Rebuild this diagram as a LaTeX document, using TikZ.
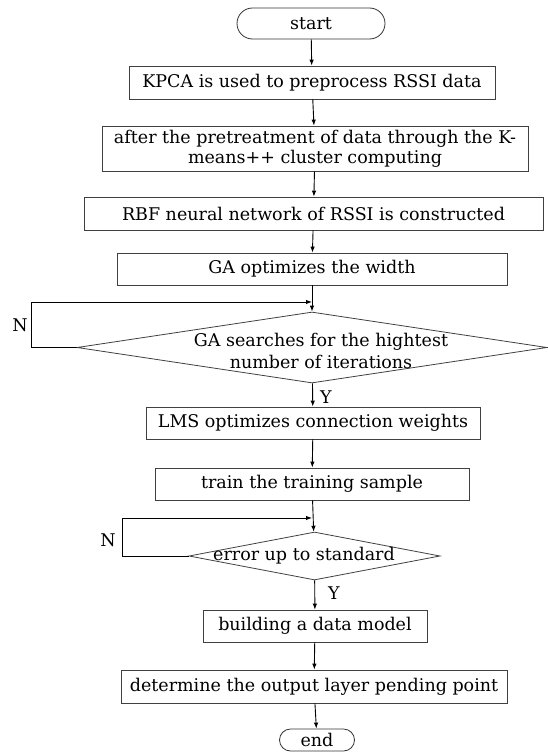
\documentclass[tikz,border=0pt]{standalone}
\usepackage{fontspec}
\setmainfont{DejaVu Serif}
\usetikzlibrary{arrows.meta,shapes.geometric}
\begin{document}
\begin{tikzpicture}[x=1pt, y=-1pt, >={Latex[length=6pt,width=4.5pt]},
  every node/.style={font=\fontsize{17.5}{20}\selectfont, inner sep=1pt},
  box/.style={draw=black!75, line width=0.8pt, rectangle, minimum height=32pt},
  term/.style={draw=black!80, line width=0.8pt, rectangle, rounded corners=11pt},
  decision/.style={draw=black!75, line width=0.8pt, diamond, aspect=6, inner sep=0pt},
  flow/.style={->, line width=0.9pt}]
\useasboundingbox (0,0) rectangle (548,752);
\node[term, rounded corners=15.5pt, minimum width=148pt, minimum height=31pt] (start) at (311,23.5) {start};
\node[box, minimum width=366pt, minimum height=33pt] (kpca) at (312,82.5) {KPCA is used to preprocess RSSI data};
\node[box, minimum width=426pt, minimum height=45pt, align=center] (pre) at (315,148.5) {after the pretreatment of data through the K-\\means++ cluster computing};
\node[box, minimum width=459pt, minimum height=33pt] (rbf) at (313.5,213.5) {RBF neural network of RSSI is constructed};
\node[box, minimum width=390pt] (ga) at (312,269) {GA optimizes the width};
\node[decision, minimum width=470pt, minimum height=71pt] (gas) at (312,347.5) {};
\node[align=center, font=\fontsize{17.5}{22}\selectfont] (gastext) at (321,351) {GA searches for the hightest\\number of iterations};
\node[box, minimum width=334pt] (lms) at (313,423) {LMS optimizes connection weights};
\node[box, minimum width=314pt] (train) at (312,484) {train the training sample};
\node[decision, minimum width=251pt, minimum height=48pt] (err) at (314.5,556) {};
\node (errtext) at (304,556) {error up to standard};
\node[box, minimum width=224pt] (build) at (315,626) {building a data model};
\node[box, minimum width=386pt, minimum height=33pt] (det) at (314,686.5) {determine the output layer pending point};
\node[term, minimum width=75pt, minimum height=22pt] (end) at (317,740) {end};
% loop points
\coordinate (gain) at (312,302);
\coordinate (errin) at (312,518);
\draw[flow] (start) -- (kpca);
\draw[flow] (kpca) -- (pre);
\draw[flow] (pre) -- (rbf);
\draw[flow] (rbf) -- (ga);
\draw[flow] (ga) -- (gas);
\draw[flow] (gas.west) -- ++(-45,0) |- (gain);
\node (gano) at (20,325) {N};
\draw[flow] (gas) -- (lms);
\node (gayes) at (326,397) {Y};
\draw[flow] (lms) -- (train);
\draw[flow] (train) -- (err);
\draw[flow] (err.west) -- ++(-66,0) |- (errin);
\node (errno) at (108,540) {N};
\draw[flow] (err) -- (build);
\node (erryes) at (334,593) {Y};
\draw[flow] (build) -- (det);
\draw[flow] (det) -- (end);
\end{tikzpicture}
\end{document}
